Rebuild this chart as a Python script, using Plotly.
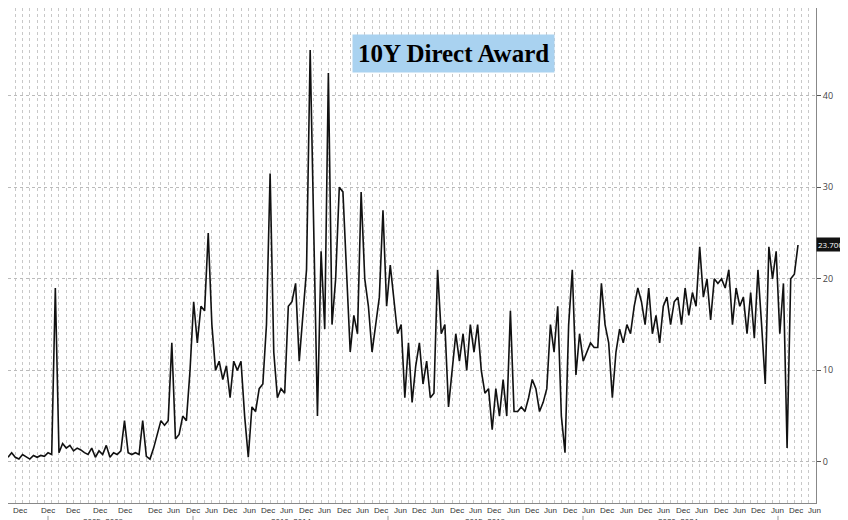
import plotly.graph_objects as go

values = [0.5,1,0.5,0.3,0.8,0.5,0.3,0.7,0.5,0.7,0.6,1,0.8,19,1,2,1.5,1.8,1.2,1.5,1.3,1,0.8,1.5,0.5,1.2,0.8,1.8,0.5,1,0.8,1.2,4.5,1,0.8,1,0.8,4.5,0.6,0.3,1.5,3,4.5,4,
4.5,13,2.5,3,5,4.5,10,17.5,13,17,16.5,25,15,10,11,9,10.5,7,11,10,11,5,0.5,6,5.5,8,8.5,15,31.5,12,7,8,7.5,17,17.5,19.5,11,16,21,45,26,5,23,14.5,42.5,15,20,30,29.5,20,12,16,14,29.5,20,17,12,15,18,27.5,17,21.5,18,14,15,7,13,6.5,10.5,13,8.5,11,7,7.5,21,14,15,6,10,14,11,14,10,15,12,15,10,7.5,8,3.5,8,5,9,5,16.5,5.5,5.5,6,5.5,7,9,8,5.5,6.5,8,15,12,17,5,1,15,21,9.5,14,11,12,13,12.5,12.5,19.5,15,13,7,12,14.5,13,15,14,17,19,17.5,15,19,14,16,13,17,18,15,17.5,18,15,19,16,18.5,17,23.5,18,20,15.5,20,19.5,20,19,21,15,19,17,18,14,18.5,13.5,21,15,8.5,23.5,20,23,14,19.5,1.5,20,20.5,23.7]
x = list(range(len(values)))
N = len(values)

tick_labels = ["Dec","Dec","Dec","Dec","Dec","Dec"] + ["Jun","Dec"]*17 + ["Jun"]
tick_px = [12,40,65,92,117,147]+[147+18.85*i for i in range(1,36)]
group_labels = ["2005–2009","2010–2014","2015–2019","2020–2024"]
group_px = [95,283,477,670]
sep_px = [40,185,380,575,770]
def px2x(p): return p/790.0*(N-1)

fig = go.Figure(go.Scatter(x=x, y=values, mode="lines", line=dict(color="#111", width=1.6), hoverinfo="skip"))
for lab, p in zip(tick_labels, tick_px):
    fig.add_annotation(x=px2x(p), y=-0.002, xref="x", yref="paper", text=lab, showarrow=False,
                       yanchor="top", font=dict(size=8, color="#333", family="Liberation Sans Narrow, Liberation Sans"))
for lab, p in zip(group_labels, group_px):
    fig.add_annotation(x=px2x(p), y=-0.024, xref="x", yref="paper", text=lab, showarrow=False,
                       yanchor="top", font=dict(size=8, color="#333", family="Liberation Sans Narrow, Liberation Sans"))
for p in sep_px:
    fig.add_shape(type="line", xref="x", yref="paper", x0=px2x(p), x1=px2x(p), y0=-0.026, y1=-0.052, line=dict(color="#999", width=1))
fig.add_annotation(x=1.0, y=values[-1], xref="paper", yref="y", text="23.700", showarrow=False, xanchor="left",
                   bgcolor="#111", font=dict(color="white", size=8), borderpad=1)
fig.add_annotation(x=574/848, y=44.6, xref="paper", yref="y", text="<b>10Y Direct Award</b>", showarrow=False,
                   bgcolor="#a9d2f0", font=dict(size=25, color="#000", family="Liberation Serif, DejaVu Serif"),
                   borderpad=5)
fig.update_layout(width=848, height=520, margin=dict(l=0, r=40, t=0, b=25, autoexpand=False),
                  plot_bgcolor="white", paper_bgcolor="white", showlegend=False,
                  xaxis=dict(range=[px2x(0), px2x(808)], showticklabels=False, ticks="",
                             showgrid=True, gridcolor="#c8c8c8", griddash="dot", dtick=2,
                             showline=True, linecolor="#888", zeroline=False),
                  yaxis=dict(side="right", range=[-4.5, 49.6], tickvals=[0,10,20,30,40],
                             ticks="outside", ticklen=4, tickcolor="#555", automargin=False,
                             tickfont=dict(size=9, color="#444"), showgrid=True, gridcolor="#bbb",
                             griddash="dot", showline=True, linecolor="#888", zeroline=False))
fig.write_html("out.html")
